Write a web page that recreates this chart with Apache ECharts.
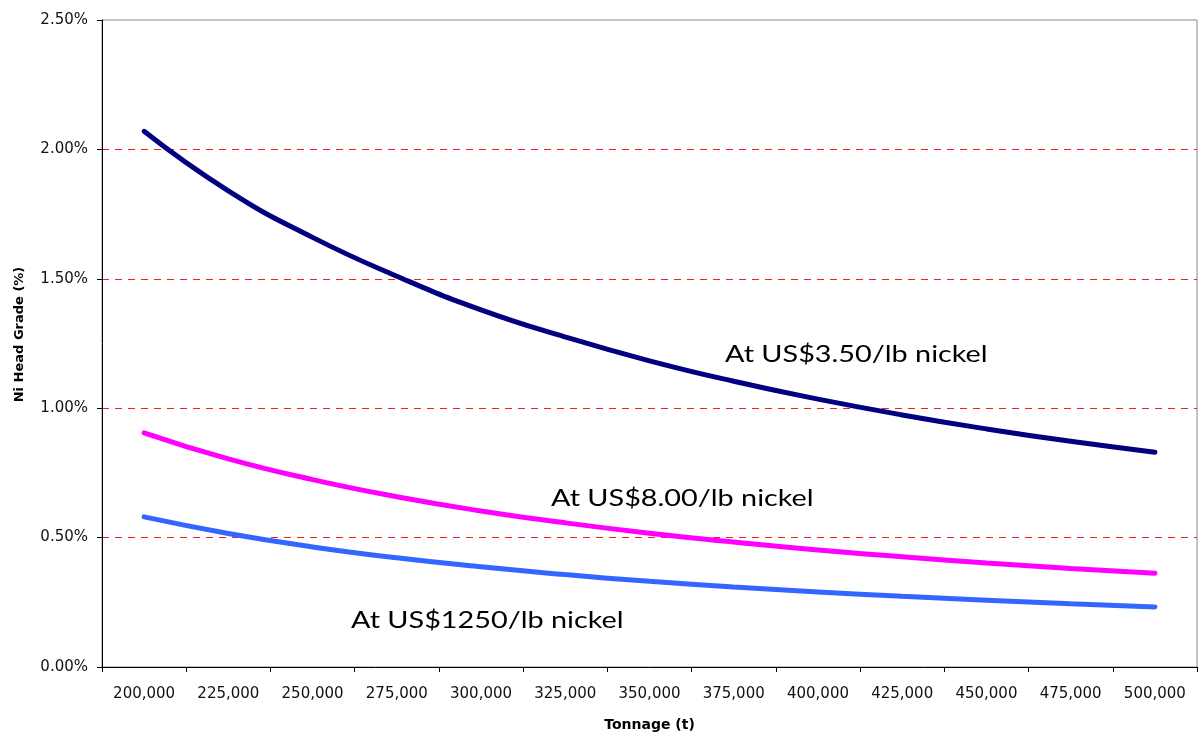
<!DOCTYPE html>
<html>
<head>
<meta charset="utf-8">
<script src="https://cdn.jsdelivr.net/npm/echarts@6/dist/echarts.min.js"></script>
<style>
    html, body { margin: 0; padding: 0; background: #fff; }
    #chart { width: 1200px; height: 733px; }
</style>
</head>
<body>
<div id="chart"></div>
<script>
// tonnage categories (t)
var tonnage = ['200,000', '225,000', '250,000', '275,000', '300,000', '325,000', '350,000',
    '375,000', '400,000', '425,000', '450,000', '475,000', '500,000'];
// Ni head grade (%)
var grade350 = [2.07, 1.84, 1.66, 1.51, 1.38, 1.275, 1.183, 1.104, 1.035, 0.974, 0.92, 0.872, 0.83];
var grade800 = [0.905, 0.804, 0.724, 0.658, 0.603, 0.557, 0.517, 0.483, 0.452, 0.426, 0.402, 0.381, 0.362];
var grade1250 = [0.58, 0.516, 0.464, 0.422, 0.387, 0.357, 0.331, 0.309, 0.29, 0.273, 0.258, 0.244, 0.232];

var myChart = echarts.init(document.getElementById('chart'));
var labelFont = 'Lato, "Noto Sans", sans-serif';
var axisFont = '"DejaVu Sans", Arial, sans-serif';

myChart.setOption({
    animation: false,
    grid: {
        left: 102,
        right: 3,
        top: 20,
        bottom: 66,
        outerBoundsMode: 'none',
        show: true,
        borderColor: '#888',
        borderWidth: 1
    },
    xAxis: {
        type: 'category',
        data: tonnage,
        boundaryGap: true,
        name: 'Tonnage (t)',
        nameLocation: 'middle',
        nameGap: 51,
        nameTextStyle: {
            fontFamily: axisFont,
            fontWeight: 'bold',
            fontSize: 14,
            color: '#000'
        },
        axisLine: { lineStyle: { color: '#000', width: 1 } },
        axisTick: { show: true, length: 5, lineStyle: { color: '#000' } },
        axisLabel: {
            fontFamily: axisFont,
            fontSize: 15,
            color: '#111',
            margin: 20
        },
        splitLine: { show: false }
    },
    yAxis: {
        type: 'value',
        min: 0,
        max: 2.5,
        interval: 0.5,
        name: 'Ni Head Grade (%)',
        nameLocation: 'middle',
        nameGap: 76,
        nameTextStyle: {
            fontFamily: axisFont,
            fontWeight: 'bold',
            fontSize: 13,
            color: '#000',
            padding: [0, 0, 0, 18]
        },
        axisLine: { show: true, lineStyle: { color: '#000', width: 1 } },
        axisTick: { show: true, length: 5, lineStyle: { color: '#000' } },
        axisLabel: {
            fontFamily: axisFont,
            fontSize: 15,
            color: '#111',
            margin: 14,
            formatter: function (v) {
                return v.toFixed(2) + '%';
            }
        },
        splitLine: {
            show: true,
            showMinLine: false,
            showMaxLine: false,
            lineStyle: { color: '#ff1a1a', type: [7, 6], width: 1 }
        }
    },
    series: [
        {
            name: 'At US$3.50/lb nickel',
            type: 'line',
            data: grade350,
            smooth: true,
            showSymbol: false,
            lineStyle: { color: '#000080', width: 5, cap: 'round' }
        },
        {
            name: 'At US$8.00/lb nickel',
            type: 'line',
            data: grade800,
            smooth: true,
            showSymbol: false,
            lineStyle: { color: '#ff00ff', width: 5, cap: 'round' }
        },
        {
            name: 'At US$12.50/lb nickel',
            type: 'line',
            data: grade1250,
            smooth: true,
            showSymbol: false,
            lineStyle: { color: '#3366ff', width: 5, cap: 'round' }
        }
    ],
    // curve captions
    graphic: [
        {
            type: 'text', left: 725, top: 342, scaleX: 1.2,
            style: { text: 'At US$3.50/lb nickel', font: '24px ' + labelFont, fill: '#000' }
        },
        {
            type: 'text', left: 551, top: 486, scaleX: 1.2,
            style: { text: 'At US$8.00/lb nickel', font: '24px ' + labelFont, fill: '#000' }
        },
        {
            type: 'text', left: 351, top: 608, scaleX: 1.2,
            style: { text: 'At US$1250/lb nickel', font: '24px ' + labelFont, fill: '#000' }
        }
    ]
});
</script>
</body>
</html>
